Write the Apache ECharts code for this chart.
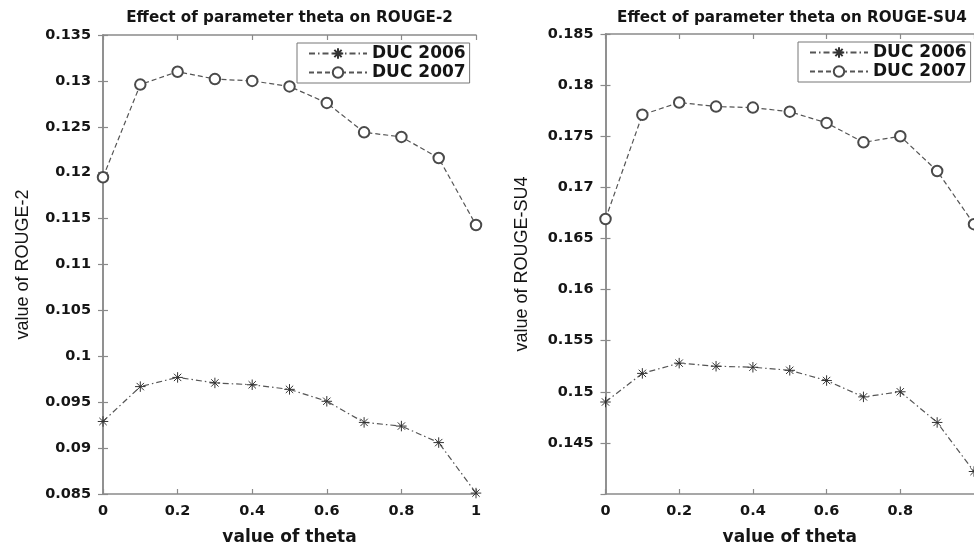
<!DOCTYPE html>
<html>
<head>
<meta charset="utf-8">
<script src="https://cdn.jsdelivr.net/npm/echarts@6/dist/echarts.min.js"></script>
<style>
html,body{margin:0;padding:0;background:#fff;}
#chart{width:974px;height:551px;}
</style>
</head>
<body>
<div id="chart"></div>
<script>
// ---- data ----
const theta = [0, 0.1, 0.2, 0.3, 0.4, 0.5, 0.6, 0.7, 0.8, 0.9, 1.0];
const seriesNames = ['DUC 2006', 'DUC 2007'];
const rouge2Duc2006 = [0.0929, 0.0967, 0.0977, 0.0971, 0.0969, 0.0964, 0.0951, 0.0928, 0.0924, 0.0906, 0.0851];
const rouge2Duc2007 = [0.1195, 0.1296, 0.1310, 0.1302, 0.1300, 0.1294, 0.1276, 0.1244, 0.1239, 0.1216, 0.1143];
const su4Duc2006 = [0.1490, 0.1518, 0.1528, 0.1525, 0.1524, 0.1521, 0.1511, 0.1495, 0.1500, 0.1470, 0.1422];
const su4Duc2007 = [0.1669, 0.1771, 0.1783, 0.1779, 0.1778, 0.1774, 0.1763, 0.1744, 0.1750, 0.1716, 0.1664];
const xTicks = [0, 0.2, 0.4, 0.6, 0.8, 1];
const rouge2Ticks = [0.085, 0.09, 0.095, 0.1, 0.105, 0.11, 0.115, 0.12, 0.125, 0.13, 0.135];
const su4Ticks = [0.14, 0.145, 0.15, 0.155, 0.16, 0.165, 0.17, 0.175, 0.18, 0.185];
const titles = ['Effect of parameter theta on ROUGE-2', 'Effect of parameter theta on ROUGE-SU4'];
const xName = 'value of theta';
const yNames = ['value of ROUGE-2', 'value of ROUGE-SU4'];

// ---- styles ----
const axisGray = '#8a8a8a';
const font = 'DejaVu Sans';
const textColor = '#151515';
const fmt = v => String(+(+v).toFixed(4));
const asterisk = 'path://M5,0L5,10M0,5L10,5M1.5,1.5L8.5,8.5M1.5,8.5L8.5,1.5';

function pair(xs, ys) { return xs.map((x, i) => [x, ys[i]]); }

function xAxes(gi, hideMax) {
  const base = {
    type: 'value', gridIndex: gi, min: xTicks[0], max: xTicks[xTicks.length - 1],
    interval: xTicks[1] - xTicks[0],
    splitLine: { show: false },
    axisLine: { show: true, lineStyle: { color: axisGray, width: 1.5 } },
    axisTick: { show: true, inside: true, length: 5, lineStyle: { color: axisGray, width: 1.2 } }
  };
  return [
    Object.assign({}, base, {
      position: 'bottom',
      name: xName, nameLocation: 'middle', nameGap: 35,
      nameTextStyle: { fontFamily: font, fontWeight: 'bold', fontSize: 17, color: textColor },
      axisLabel: { show: true, margin: 10, fontFamily: font, fontWeight: 'bold', fontSize: 14.5, color: textColor,
        showMaxLabel: !hideMax, formatter: fmt }
    }),
    Object.assign({}, base, { position: 'top', axisLabel: { show: false } })
  ];
}

function yAxes(gi, ticks, name, gap, hideMin) {
  const base = {
    type: 'value', gridIndex: gi, min: ticks[0], max: ticks[ticks.length - 1],
    interval: +(ticks[1] - ticks[0]).toFixed(4),
    splitLine: { show: false },
    axisLine: { show: true, lineStyle: { color: axisGray, width: 1.5 } },
    axisTick: { show: true, inside: true, length: 5, lineStyle: { color: axisGray, width: 1.2 } }
  };
  return [
    Object.assign({}, base, {
      position: 'left',
      name: name, nameLocation: 'middle', nameGap: gap,
      nameTextStyle: { fontFamily: 'Liberation Sans', fontSize: 18, color: textColor },
      axisLabel: { show: true, margin: 12, fontFamily: font, fontWeight: 'bold', fontSize: 14.5, color: textColor,
        showMinLabel: !hideMin, formatter: fmt }
    }),
    Object.assign({}, base, { position: 'right', axisLabel: { show: false } })
  ];
}

function mkSeries(name, xi, yi, data, isAst) {
  return {
    name: name, type: 'line', xAxisIndex: xi, yAxisIndex: yi,
    data: data,
    symbol: isAst ? asterisk : 'emptyCircle',
    symbolSize: isAst ? 10.5 : 10.5,
    showAllSymbol: true,
    lineStyle: { color: '#555', width: 1.2, type: isAst ? [6, 3, 1.5, 3] : [5, 3] },
    itemStyle: isAst ? { color: '#333', borderColor: '#333', borderWidth: 1 }
                     : { color: '#4a4a4a', borderColor: '#4a4a4a', borderWidth: 0.9 },
    emphasis: { disabled: true },
    animation: false
  };
}

const legendCommon = {
  orient: 'vertical',
  itemWidth: 58, itemHeight: 13, itemGap: 2,
  padding: [2, 4, 2, 11],
  borderColor: '#777', borderWidth: 1, backgroundColor: '#fff',
  textStyle: { fontFamily: font, fontWeight: 'bold', fontSize: 17, color: textColor },
  data: seriesNames,
  selectedMode: false
};

const chart = echarts.init(document.getElementById('chart'), null, { renderer: 'canvas' });
chart.setOption({
  animation: false,
  backgroundColor: '#fff',
  grid: [
    { left: 103, top: 35, right: 498, bottom: 52, containLabel: false },
    { left: 605.5, top: 34, right: -4, bottom: 52, containLabel: false }
  ],
  xAxis: [].concat(xAxes(0, false), xAxes(1, true)),
  yAxis: [].concat(yAxes(0, rouge2Ticks, yNames[0], 71, false), yAxes(1, su4Ticks, yNames[1], 74, true)),
  legend: [
    Object.assign({}, legendCommon, { left: 297, top: 43 }),
    Object.assign({}, legendCommon, { left: 798, top: 42 })
  ],
  graphic: [
    { type: 'text', x: 289.5, y: 18, style: { text: titles[0], fontFamily: font, fontWeight: 'bold', fontSize: 15.2, fill: textColor, align: 'center', verticalAlign: 'middle' } },
    { type: 'text', x: 792, y: 18, style: { text: titles[1], fontFamily: font, fontWeight: 'bold', fontSize: 15.2, fill: textColor, align: 'center', verticalAlign: 'middle' } }
  ],
  series: [
    mkSeries(seriesNames[0], 0, 0, pair(theta, rouge2Duc2006), true),
    mkSeries(seriesNames[1], 0, 0, pair(theta, rouge2Duc2007), false),
    mkSeries(seriesNames[0], 2, 2, pair(theta, su4Duc2006), true),
    mkSeries(seriesNames[1], 2, 2, pair(theta, su4Duc2007), false)
  ]
});
</script>
</body>
</html>
